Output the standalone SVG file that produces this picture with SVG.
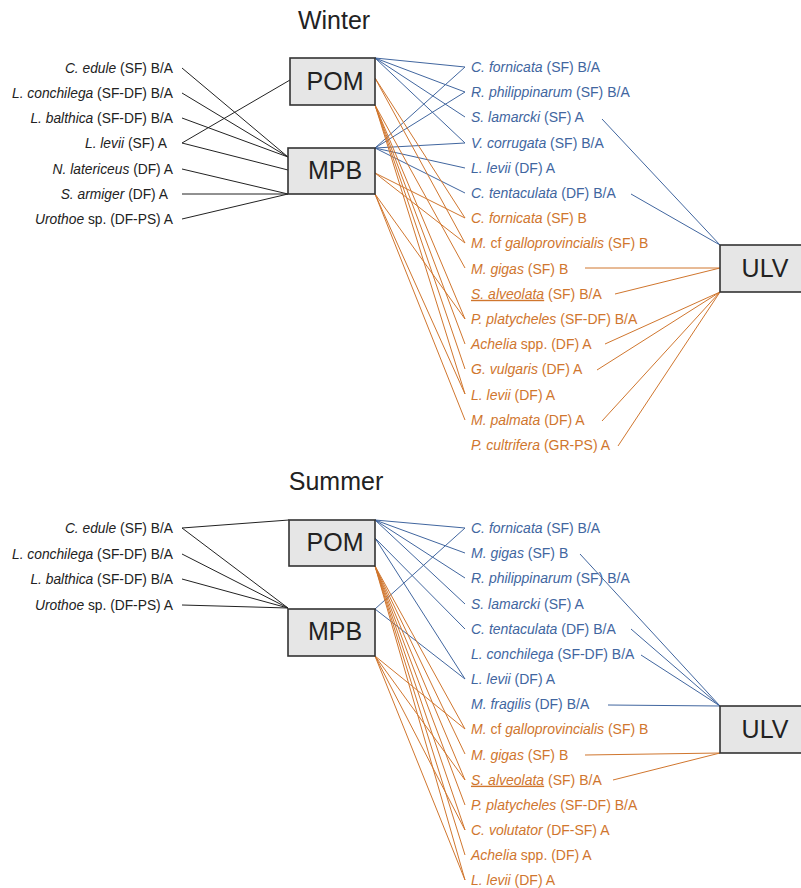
<svg xmlns="http://www.w3.org/2000/svg" width="801" height="888" viewBox="0 0 801 888">
<style>
text{font-family:"Liberation Sans",Arial,sans-serif}
.t{font-size:25px;fill:#222;text-anchor:middle}
.bx rect{fill:#e6e6e6;stroke:#333;stroke-width:1.6}
.bx text{font-size:25px;fill:#222;text-anchor:middle}
.l{font-size:13.8px;fill:#222;text-anchor:end}
.b{font-size:14px;fill:#41669f}
.o{font-size:14px;fill:#d0762e}
.i{font-style:italic}
.u{text-decoration:underline}
.k line{stroke:#222;stroke-width:1}
.bl line{stroke:#41669f;stroke-width:1}
.or line{stroke:#d0762e;stroke-width:1}
</style>
<rect width="801" height="888" fill="#fff"/>
<text class="t" x="334" y="29">Winter</text>
<text class="t" x="336" y="490">Summer</text>

<g id="connectors">
<g class="k">
<line x1="182" y1="68" x2="288" y2="157"/>
<line x1="182" y1="93" x2="288" y2="157"/>
<line x1="182" y1="118" x2="288" y2="157"/>
<line x1="182" y1="143" x2="290" y2="80"/>
<line x1="182" y1="143" x2="288" y2="170"/>
<line x1="182" y1="169" x2="288" y2="194"/>
<line x1="182" y1="194" x2="288" y2="194"/>
<line x1="182" y1="219" x2="288" y2="194"/>
<line x1="182" y1="528" x2="289" y2="520"/>
<line x1="182" y1="528" x2="288" y2="608"/>
<line x1="182" y1="554" x2="288" y2="608"/>
<line x1="182" y1="579" x2="288" y2="608"/>
<line x1="182" y1="605" x2="288" y2="608"/>
</g>
<g class="bl">
<line x1="375" y1="58" x2="465" y2="67"/>
<line x1="375" y1="58" x2="465" y2="92"/>
<line x1="375" y1="58" x2="465" y2="117"/>
<line x1="375" y1="58" x2="465" y2="143"/>
<line x1="375" y1="148" x2="465" y2="67"/>
<line x1="375" y1="148" x2="465" y2="92"/>
<line x1="375" y1="148" x2="465" y2="143"/>
<line x1="375" y1="148" x2="465" y2="168"/>
<line x1="375" y1="148" x2="465" y2="193"/>
<line x1="602" y1="119" x2="720" y2="245"/>
<line x1="631" y1="194" x2="720" y2="245"/>
<line x1="375" y1="520" x2="465" y2="528"/>
<line x1="375" y1="520" x2="465" y2="553"/>
<line x1="375" y1="520" x2="465" y2="578"/>
<line x1="375" y1="520" x2="465" y2="604"/>
<line x1="375" y1="538" x2="465" y2="629"/>
<line x1="375" y1="538" x2="465" y2="679"/>
<line x1="375" y1="609" x2="465" y2="528"/>
<line x1="375" y1="609" x2="465" y2="679"/>
<line x1="580" y1="554" x2="720" y2="706"/>
<line x1="631" y1="629" x2="720" y2="706"/>
<line x1="641" y1="655" x2="720" y2="706"/>
<line x1="608" y1="705" x2="720" y2="706"/>
</g>
<g class="or">
<line x1="375" y1="78" x2="465" y2="218"/>
<line x1="375" y1="78" x2="465" y2="243"/>
<line x1="375" y1="105" x2="465" y2="268"/>
<line x1="375" y1="105" x2="465" y2="319"/>
<line x1="375" y1="105" x2="465" y2="344"/>
<line x1="375" y1="105" x2="465" y2="369"/>
<line x1="375" y1="105" x2="465" y2="394"/>
<line x1="375" y1="173" x2="465" y2="218"/>
<line x1="375" y1="173" x2="465" y2="243"/>
<line x1="375" y1="194" x2="465" y2="319"/>
<line x1="375" y1="194" x2="465" y2="394"/>
<line x1="375" y1="194" x2="465" y2="420"/>
<line x1="585" y1="268" x2="720" y2="268"/>
<line x1="615" y1="294" x2="720" y2="268"/>
<line x1="605" y1="344" x2="720" y2="292"/>
<line x1="597" y1="370" x2="720" y2="292"/>
<line x1="602" y1="421" x2="720" y2="292"/>
<line x1="618" y1="446" x2="720" y2="292"/>
<line x1="375" y1="566" x2="465" y2="729"/>
<line x1="375" y1="566" x2="465" y2="754"/>
<line x1="375" y1="566" x2="465" y2="780"/>
<line x1="375" y1="566" x2="465" y2="805"/>
<line x1="375" y1="566" x2="465" y2="830"/>
<line x1="375" y1="566" x2="465" y2="855"/>
<line x1="375" y1="566" x2="465" y2="880"/>
<line x1="375" y1="656" x2="465" y2="729"/>
<line x1="375" y1="656" x2="465" y2="780"/>
<line x1="375" y1="656" x2="465" y2="830"/>
<line x1="375" y1="656" x2="465" y2="880"/>
<line x1="585" y1="755" x2="720" y2="753"/>
<line x1="613" y1="780" x2="720" y2="753"/>
</g>
</g>

<g id="POM_w" class="bx"><rect x="290" y="58" width="85" height="47"/><text x="335" y="90">POM</text></g>
<g id="MPB_w" class="bx"><rect x="288" y="148" width="87" height="46"/><text x="335" y="179">MPB</text></g>
<g id="ULV_w" class="bx"><rect x="720" y="245" width="82" height="47"/><text x="765" y="277">ULV</text></g>
<g id="POM_s" class="bx"><rect x="289" y="520" width="86" height="46"/><text x="335" y="551">POM</text></g>
<g id="MPB_s" class="bx"><rect x="288" y="609" width="87" height="47"/><text x="335" y="640">MPB</text></g>
<g id="ULV_s" class="bx"><rect x="720" y="706" width="82" height="47"/><text x="765" y="738">ULV</text></g>

<g id="winter_left">
<text class="l" x="173" y="73"><tspan class="i">C. edule</tspan> (SF) B/A</text>
<text class="l" x="173" y="98"><tspan class="i">L. conchilega</tspan> (SF-DF) B/A</text>
<text class="l" x="173" y="123"><tspan class="i">L. balthica</tspan> (SF-DF) B/A</text>
<text class="l" x="167" y="148"><tspan class="i">L. levii</tspan> (SF) A</text>
<text class="l" x="173" y="174"><tspan class="i">N. latericeus</tspan> (DF) A</text>
<text class="l" x="168" y="199"><tspan class="i">S. armiger</tspan> (DF) A</text>
<text class="l" x="173" y="224"><tspan class="i">Urothoe</tspan> sp. (DF-PS) A</text>
</g>
<g id="winter_right">
<text class="b" x="471" y="72"><tspan class="i">C. fornicata</tspan> (SF) B/A</text>
<text class="b" x="471" y="97.2"><tspan class="i">R. philippinarum</tspan> (SF) B/A</text>
<text class="b" x="471" y="122.4"><tspan class="i">S. lamarcki</tspan> (SF) A</text>
<text class="b" x="471" y="147.6"><tspan class="i">V. corrugata</tspan> (SF) B/A</text>
<text class="b" x="471" y="172.8"><tspan class="i">L. levii</tspan> (DF) A</text>
<text class="b" x="471" y="198"><tspan class="i">C. tentaculata</tspan> (DF) B/A</text>
<text class="o" x="471" y="223.2"><tspan class="i">C. fornicata</tspan> (SF) B</text>
<text class="o" x="471" y="248.4"><tspan class="i">M.</tspan> cf <tspan class="i">galloprovincialis</tspan> (SF) B</text>
<text class="o" x="471" y="273.6"><tspan class="i">M. gigas</tspan> (SF) B</text>
<text class="o" x="471" y="298.8"><tspan class="i u">S. alveolata</tspan> (SF) B/A</text>
<text class="o" x="471" y="324"><tspan class="i">P. platycheles</tspan> (SF-DF) B/A</text>
<text class="o" x="471" y="349.2"><tspan class="i">Achelia</tspan> spp. (DF) A</text>
<text class="o" x="471" y="374.4"><tspan class="i">G. vulgaris</tspan> (DF) A</text>
<text class="o" x="471" y="399.6"><tspan class="i">L. levii</tspan> (DF) A</text>
<text class="o" x="471" y="424.8"><tspan class="i">M. palmata</tspan> (DF) A</text>
<text class="o" x="471" y="450"><tspan class="i">P. cultrifera</tspan> (GR-PS) A</text>
</g>
<g id="summer_left">
<text class="l" x="173" y="533"><tspan class="i">C. edule</tspan> (SF) B/A</text>
<text class="l" x="173" y="559"><tspan class="i">L. conchilega</tspan> (SF-DF) B/A</text>
<text class="l" x="173" y="584"><tspan class="i">L. balthica</tspan> (SF-DF) B/A</text>
<text class="l" x="173" y="610"><tspan class="i">Urothoe</tspan> sp. (DF-PS) A</text>
</g>
<g id="summer_right">
<text class="b" x="471" y="533"><tspan class="i">C. fornicata</tspan> (SF) B/A</text>
<text class="b" x="471" y="558.2"><tspan class="i">M. gigas</tspan> (SF) B</text>
<text class="b" x="471" y="583.3"><tspan class="i">R. philippinarum</tspan> (SF) B/A</text>
<text class="b" x="471" y="608.5"><tspan class="i">S. lamarcki</tspan> (SF) A</text>
<text class="b" x="471" y="633.7"><tspan class="i">C. tentaculata</tspan> (DF) B/A</text>
<text class="b" x="471" y="658.8"><tspan class="i">L. conchilega</tspan> (SF-DF) B/A</text>
<text class="b" x="471" y="684"><tspan class="i">L. levii</tspan> (DF) A</text>
<text class="b" x="471" y="709.2"><tspan class="i">M. fragilis</tspan> (DF) B/A</text>
<text class="o" x="471" y="734.4"><tspan class="i">M.</tspan> cf <tspan class="i">galloprovincialis</tspan> (SF) B</text>
<text class="o" x="471" y="759.5"><tspan class="i">M. gigas</tspan> (SF) B</text>
<text class="o" x="471" y="784.7"><tspan class="i u">S. alveolata</tspan> (SF) B/A</text>
<text class="o" x="471" y="809.9"><tspan class="i">P. platycheles</tspan> (SF-DF) B/A</text>
<text class="o" x="471" y="835"><tspan class="i">C. volutator</tspan> (DF-SF) A</text>
<text class="o" x="471" y="860.2"><tspan class="i">Achelia</tspan> spp. (DF) A</text>
<text class="o" x="471" y="885.4"><tspan class="i">L. levii</tspan> (DF) A</text>
</g>
</svg>
